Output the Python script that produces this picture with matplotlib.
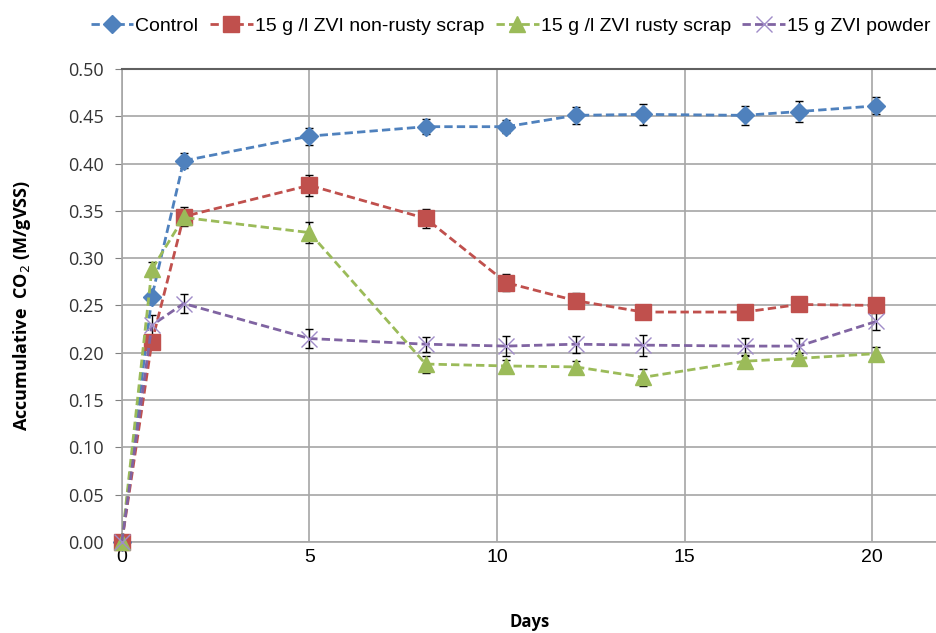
import matplotlib.pyplot as plt

# sampling days
days = [0, 0.8, 1.65, 5, 8.1, 10.25, 12.1, 13.9, 16.6, 18.05, 20.1]

control = [0.0, 0.259, 0.403, 0.429, 0.439, 0.439, 0.451, 0.452, 0.451, 0.455, 0.461]
control_err = [0.0, 0.0, 0.008, 0.009, 0.008, 0.007, 0.009, 0.011, 0.010, 0.011, 0.009]

non_rusty = [0.0, 0.211, 0.344, 0.377, 0.342, 0.274, 0.255, 0.243, 0.243, 0.251, 0.250]
non_rusty_err = [0.0, 0.0, 0.010, 0.011, 0.010, 0.009, 0.008, 0.005, 0.005, 0.003, 0.003]

rusty = [0.0, 0.288, 0.343, 0.327, 0.188, 0.186, 0.185, 0.174, 0.191, 0.194, 0.199]
rusty_err = [0.0, 0.008, 0.008, 0.011, 0.009, 0.006, 0.006, 0.009, 0.006, 0.006, 0.007]

powder = [0.0, 0.229, 0.252, 0.215, 0.209, 0.207, 0.209, 0.208, 0.207, 0.207, 0.233]
powder_err = [0.0, 0.011, 0.010, 0.010, 0.008, 0.011, 0.009, 0.011, 0.009, 0.009, 0.009]

labels = ["Control", "15 g /l ZVI non-rusty scrap", "15 g /l ZVI rusty scrap", "15 g ZVI powder"]
y_ticks = [0.0, 0.05, 0.10, 0.15, 0.20, 0.25, 0.30, 0.35, 0.40, 0.45, 0.50]
x_ticks = [0, 5, 10, 15, 20]

series = [
    (control, control_err, "#4F81BD", "D", 9, labels[0]),
    (non_rusty, non_rusty_err, "#C0504D", "s", 11, labels[1]),
    (rusty, rusty_err, "#9BBB59", "^", 11, labels[2]),
    (powder, powder_err, "#8064A2", "x", 12, labels[3]),
]

fig = plt.figure(figsize=(9.37, 6.33), dpi=100)
ax = fig.add_axes([0.130, 0.144, 0.870, 0.747])

for values, errs, color, marker, size, label in series:
    ax.errorbar(days, values, yerr=errs, fmt="none", ecolor="black",
                elinewidth=1.0, capsize=3, capthick=1.0, zorder=3)
    edge = "#A08CC8" if marker == "x" else color
    ax.plot(days, values, linestyle=(0, (3, 1.5)), linewidth=2, color=color,
            marker=marker, markersize=size, markeredgewidth=1.0,
            markeredgecolor=edge, label=label, zorder=4, clip_on=False)

ax.set_xlim(0, 21.73)
ax.set_ylim(0, 0.5)
ax.set_xticks(x_ticks)
ax.set_yticks(y_ticks)
ax.set_yticklabels([f"{t:.2f}" for t in y_ticks], fontsize=13, family="Open Sans", color="#333333")
ax.set_xticklabels([str(t) for t in x_ticks], fontsize=14, family="Liberation Sans")
ax.tick_params(axis="x", length=0, pad=5)
ax.tick_params(axis="y", length=5, color="#808080", pad=8)

ax.grid(True, color="#A6A6A6", linewidth=1.2)
ax.set_axisbelow(True)
for side in ["left", "bottom"]:
    ax.spines[side].set_color("#A6A6A6")
    ax.spines[side].set_linewidth(1.2)
ax.spines["top"].set_color("#606060")
ax.spines["top"].set_linewidth(1.5)
ax.spines["right"].set_visible(False)

ax.set_xlabel("Days", fontsize=12, fontweight="bold", family="Open Sans", labelpad=34)
ax.set_ylabel("Accumulative  CO$_2$ (M/gVSS)", fontsize=13, fontweight="bold",
              family="Open Sans", labelpad=25)

ax.legend(loc="upper center", bbox_to_anchor=(0.477, 1.125), ncol=4, frameon=False,
          prop={"family": "Liberation Sans", "size": 14},
          handlelength=2.2, handletextpad=0.1, columnspacing=0.6, borderaxespad=0)

plt.savefig("out.png", dpi=100)
